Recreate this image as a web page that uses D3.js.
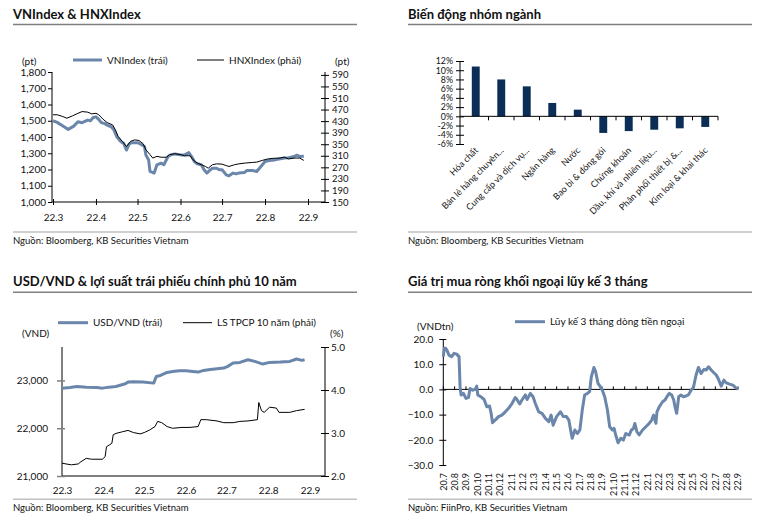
<!DOCTYPE html>
<html><head><meta charset="utf-8">
<script src="https://cdn.jsdelivr.net/npm/d3@7"></script>
<style>
body{margin:0;background:#fff}
text{font-family:Lato,"Open Sans",sans-serif;fill:#111}
</style>
</head><body>
<svg id="c" width="760" height="514"></svg>
<script>
// ---------- DATA ----------
const monthTicks1 = ["22.3","22.4","22.5","22.6","22.7","22.8","22.9"];

const vnDates = ["2022-03-01","2022-03-04","2022-03-09","2022-03-12","2022-03-16","2022-03-19","2022-03-22","2022-03-26","2022-03-28","2022-03-30","2022-04-01","2022-04-03","2022-04-05","2022-04-07","2022-04-09","2022-04-12","2022-04-14","2022-04-16","2022-04-19","2022-04-21","2022-04-23","2022-04-25","2022-04-27","2022-05-01","2022-05-03","2022-05-06","2022-05-07","2022-05-09","2022-05-10","2022-05-13","2022-05-15","2022-05-18","2022-05-20","2022-05-23","2022-05-25","2022-05-28","2022-06-01","2022-06-04","2022-06-07","2022-06-09","2022-06-11","2022-06-13","2022-06-16","2022-06-18","2022-06-20","2022-06-22","2022-06-24","2022-06-27","2022-06-29","2022-07-01","2022-07-04","2022-07-06","2022-07-09","2022-07-11","2022-07-13","2022-07-17","2022-07-19","2022-07-23","2022-07-26","2022-07-28","2022-08-01","2022-08-04","2022-08-08","2022-08-11","2022-08-15","2022-08-18","2022-08-22","2022-08-24","2022-08-26","2022-08-29"];
const vnValues = [1500,1490,1463,1447,1467,1494,1488,1504,1500,1520,1524,1508,1488,1484,1473,1463,1443,1402,1371,1361,1320,1357,1365,1365,1357,1341,1290,1259,1188,1178,1229,1239,1229,1280,1290,1296,1290,1290,1304,1280,1249,1235,1229,1198,1178,1194,1208,1208,1198,1198,1167,1161,1178,1173,1178,1182,1194,1194,1188,1208,1249,1255,1259,1265,1271,1273,1280,1288,1280,1282];

const hnxDates = ["2022-03-01","2022-03-04","2022-03-08","2022-03-11","2022-03-15","2022-03-19","2022-03-22","2022-03-26","2022-03-29","2022-04-01","2022-04-03","2022-04-06","2022-04-09","2022-04-13","2022-04-15","2022-04-17","2022-04-20","2022-04-23","2022-04-26","2022-04-29","2022-05-02","2022-05-05","2022-05-07","2022-05-10","2022-05-12","2022-05-15","2022-05-18","2022-05-22","2022-05-24","2022-05-28","2022-06-01","2022-06-04","2022-06-08","2022-06-10","2022-06-13","2022-06-16","2022-06-19","2022-06-21","2022-06-24","2022-06-27","2022-07-01","2022-07-04","2022-07-06","2022-07-10","2022-07-13","2022-07-18","2022-07-23","2022-07-26","2022-07-30","2022-08-03","2022-08-06","2022-08-11","2022-08-15","2022-08-18","2022-08-22","2022-08-26","2022-08-29"];
const hnxValues = [452,452,446,440,448,457,463,461,455,457,452,437,425,417,400,377,360,342,360,365,363,352,331,314,302,308,305,305,314,317,314,310,310,296,285,279,273,267,279,282,281,276,273,279,282,285,287,288,294,299,301,302,305,299,302,302,294];

const sectorNames = ["Hóa chất","Bán lẻ hàng chuyên...","Cung cấp và dịch vụ...","Ngân hàng","Nước","Bao bì & đóng gói","Chứng khoán","Dầu, khí và nhiên liệu...","Phân phối thiết bị &...","Kim loại & khai thác"];
const sectorValues = [10.8,8.0,6.5,2.9,1.45,-3.6,-3.2,-2.9,-2.6,-2.3];

const usdDates = ["2022-03-01","2022-03-07","2022-03-12","2022-03-19","2022-03-27","2022-03-31","2022-04-05","2022-04-10","2022-04-17","2022-04-19","2022-04-23","2022-04-30","2022-05-08","2022-05-10","2022-05-13","2022-05-18","2022-05-22","2022-05-27","2022-06-01","2022-06-06","2022-06-10","2022-06-14","2022-06-19","2022-06-24","2022-06-29","2022-07-02","2022-07-06","2022-07-11","2022-07-17","2022-07-22","2022-07-28","2022-08-02","2022-08-10","2022-08-17","2022-08-22","2022-08-26","2022-08-28"];
const usdValues = [22839,22853,22874,22860,22853,22839,22860,22874,22930,22965,22972,22965,22944,23084,23105,23168,23189,23203,23203,23189,23175,23210,23231,23245,23259,23294,23364,23378,23434,23399,23343,23378,23385,23399,23448,23420,23434];

const bondDates = ["2022-03-01","2022-03-04","2022-03-08","2022-03-13","2022-03-15","2022-03-19","2022-03-23","2022-03-27","2022-03-31","2022-04-02","2022-04-03","2022-04-05","2022-04-07","2022-04-08","2022-04-10","2022-04-15","2022-04-19","2022-04-23","2022-04-28","2022-05-01","2022-05-05","2022-05-09","2022-05-11","2022-05-14","2022-05-18","2022-05-22","2022-05-29","2022-06-04","2022-06-10","2022-06-12","2022-06-16","2022-06-24","2022-06-29","2022-07-06","2022-07-11","2022-07-17","2022-07-24","2022-07-25","2022-07-27","2022-07-29","2022-07-31","2022-08-02","2022-08-07","2022-08-09","2022-08-12","2022-08-17","2022-08-22","2022-08-28"];
const bondValues = [2.30,2.28,2.26,2.28,2.33,2.41,2.39,2.39,2.39,2.45,2.68,2.72,2.76,2.96,2.99,3.03,3.06,3.01,2.98,3.01,3.07,3.15,3.27,3.24,3.15,3.11,3.13,3.13,3.15,3.31,3.31,3.28,3.24,3.24,3.27,3.28,3.31,3.71,3.52,3.48,3.54,3.60,3.58,3.48,3.48,3.48,3.52,3.55];

const flowTickLabels = ["20.7","20.8","20.9","20.10","20.11","20.12","21.1","21.2","21.3","21.4","21.5","21.6","21.7","21.8","21.9","21.10","21.11","21.12","22.1","22.2","22.3","22.4","22.5","22.6","22.7","22.8","22.9"];
// months elapsed since Jul 2020
const flowMonths = [0,0.09,0.21,0.35,0.50,0.74,0.95,1.18,1.39,1.48,1.57,1.77,2.01,2.22,2.36,2.60,2.81,2.95,3.04,3.31,3.60,3.84,4.08,4.22,4.34,4.58,4.87,5.17,5.47,5.76,6.06,6.35,6.50,6.74,6.94,7.24,7.39,7.68,7.92,8.12,8.42,8.71,9.01,9.31,9.51,9.69,9.99,10.34,10.58,10.87,11.08,11.23,11.37,11.61,11.82,12.05,12.26,12.47,12.70,12.91,13.06,13.29,13.44,13.65,13.82,14.03,14.24,14.48,14.68,14.92,15.07,15.21,15.42,15.66,15.89,16.10,16.40,16.60,16.78,16.90,17.08,17.28,17.58,17.87,18.17,18.38,18.55,18.76,18.85,19.05,19.35,19.56,19.73,19.94,20.15,20.33,20.44,20.59,20.77,20.97,21.18,21.42,21.62,21.86,22.07,22.30,22.51,22.75,22.98,23.19,23.40,23.63,23.87,24.08,24.28,24.52,24.76,24.96,25.26,25.55,25.76,26.0];
const flowValues = [13.0,16.3,16.3,15.3,13.6,13.0,14.3,14.0,13.0,1.1,-2.2,-1.6,-3.6,-3.2,0.4,-0.3,0,1.3,-2.2,-2.9,-4.0,-6.9,-6.6,-9.5,-13.2,-12.2,-10.8,-10.2,-8.9,-7.5,-5.6,-3.2,-4.0,-5.8,-4.2,-2.2,-4.0,-1.6,-2.9,-5.6,-8.9,-9.5,-11.5,-12.8,-10.2,-14.2,-10.8,-8.9,-10.8,-10.8,-12.2,-16.1,-19.4,-16.1,-17.5,-16.1,-8.2,-2.2,-1.6,-0.9,5.0,8.7,7.0,2.4,1.3,-0.3,-2.9,-8.2,-14.8,-16.1,-15.5,-18.1,-21.2,-19.4,-20.1,-17.5,-18.1,-16.1,-15.5,-13.5,-16.8,-18.1,-16.1,-14.8,-13.5,-12.2,-10.2,-13.5,-8.9,-6.9,-4.9,-4.2,-2.9,-1.6,-2.2,-4.2,-6.9,-9.5,-2.9,-2.2,-2.9,-2.6,-2.2,-0.3,0.8,5.7,8.7,6.3,7.9,7.7,9.0,7.7,6.6,5.7,4.0,1.3,3.7,2.6,2.1,1.7,0.8,0];

// ---------- DRAW ----------
const svg = d3.select("#c");
const BLUE = "#6a86ab", NAVY = "#0c2d56", TXT = "#111";
const parse = d3.timeParse("%Y-%m-%d");

function frame(x0, x1, titleY, ruleY, title, srcRuleY, srcY, src) {
  svg.append("text").attr("x", x0).attr("y", titleY).attr("font-size", 13).attr("font-weight", 700).text(title);
  svg.append("line").attr("x1", x0).attr("x2", x1).attr("y1", ruleY).attr("y2", ruleY).attr("stroke", "#808080").attr("stroke-width", 1.5);
  svg.append("line").attr("x1", x0).attr("x2", x1).attr("y1", srcRuleY).attr("y2", srcRuleY).attr("stroke", "#c0c0c0").attr("stroke-width", 1.5);
  svg.append("text").attr("x", x0).attr("y", srcY).attr("font-size", 9.5).text(src);
}
function styleAxis(g, fs) {
  g.selectAll("text").attr("font-size", fs).attr("fill", TXT).attr("font-family", "Lato, 'Open Sans', sans-serif");
  g.selectAll("line").attr("stroke", "#000");
  g.select(".domain").remove();
}
function legendItem(x, y, len, color, w, label) {
  svg.append("line").attr("x1", x).attr("x2", x + len).attr("y1", y).attr("y2", y).attr("stroke", color).attr("stroke-width", w);
  svg.append("text").attr("x", x + len + 5).attr("y", y + 3.5).attr("font-size", 10).text(label);
}

// ===== Panel 1 =====
frame(13, 357, 18.5, 24.5, "VNIndex & HNXIndex", 232, 243.5, "Nguồn: Bloomberg, KB Securities Vietnam");
const x1 = d3.scaleTime().domain([parse("2022-03-01"), parse("2022-09-01")]).range([53, 308]);
const yL1 = d3.scaleLinear().domain([1000, 1800]).range([202, 72]);
const yR1 = d3.scaleLinear().domain([150, 600]).range([202, 72]);
svg.append("line").attr("x1", 52).attr("x2", 52).attr("y1", 72).attr("y2", 202).attr("stroke", "#000");
svg.append("line").attr("x1", 325).attr("x2", 325).attr("y1", 72).attr("y2", 202).attr("stroke", "#000");
svg.append("line").attr("x1", 52).attr("x2", 325).attr("y1", 202).attr("y2", 202).attr("stroke", "#000");
let g = svg.append("g").attr("transform", "translate(52,0)")
  .call(d3.axisLeft(yL1).tickValues(d3.range(1000, 1801, 100)).tickFormat(d3.format(",")).tickSize(4).tickPadding(2));
styleAxis(g, 10);
g = svg.append("g").attr("transform", "translate(325,0)")
  .call(d3.axisRight(yR1).tickValues(d3.range(150, 591, 40)).tickSize(4).tickPadding(3));
styleAxis(g, 9.5); g.selectAll(".tick line").attr("x1", -4);
const months1 = d3.timeMonth.range(parse("2022-03-01"), parse("2022-09-02"));
g = svg.append("g").attr("transform", "translate(0,202)")
  .call(d3.axisBottom(x1).tickValues(months1).tickFormat((d, i) => monthTicks1[i]).tickSize(3).tickPadding(9));
styleAxis(g, 10); g.selectAll(".tick line").attr("y1", -3);
svg.append("text").attr("x", 22).attr("y", 65).attr("font-size", 10).text("(pt)");
svg.append("text").attr("x", 335).attr("y", 65).attr("font-size", 10).text("(pt)");
const vnData = vnDates.map((d, i) => ({ t: parse(d), v: vnValues[i] }));
const hnxData = hnxDates.map((d, i) => ({ t: parse(d), v: hnxValues[i] }));
svg.append("path").datum(vnData).attr("fill", "none").attr("stroke", BLUE).attr("stroke-width", 3).attr("stroke-linejoin", "round")
  .attr("d", d3.line().x(d => x1(d.t)).y(d => yL1(d.v)));
svg.append("path").datum(hnxData).attr("fill", "none").attr("stroke", "#000").attr("stroke-width", 1)
  .attr("d", d3.line().x(d => x1(d.t)).y(d => yR1(d.v)));
legendItem(73, 60, 29, BLUE, 3, "VNIndex (trái)");
legendItem(197, 60, 27, "#000", 1, "HNXIndex (phải)");

// ===== Panel 2 =====
frame(408, 752, 18.5, 24.5, "Biến động nhóm ngành", 232, 243.5, "Nguồn: Bloomberg, KB Securities Vietnam");
const x2 = d3.scaleBand().domain(sectorNames).range([463, 718]).paddingInner(0.69).paddingOuter(0.345);
const y2 = d3.scaleLinear().domain([-6, 12]).range([144, 61]);
svg.append("line").attr("x1", 460).attr("x2", 460).attr("y1", 61).attr("y2", 144).attr("stroke", "#000");
g = svg.append("g").attr("transform", "translate(460,0)")
  .call(d3.axisLeft(y2).tickValues(d3.range(-6, 13, 2)).tickFormat(d => d + "%").tickSize(4).tickPadding(3));
styleAxis(g, 8.8); g.selectAll(".tick line").attr("x1", 4);
svg.selectAll(".bar").data(sectorNames).enter().append("rect")
  .attr("x", d => x2(d)).attr("width", x2.bandwidth())
  .attr("y", (d, i) => y2(Math.max(0, sectorValues[i])))
  .attr("height", (d, i) => Math.abs(y2(sectorValues[i]) - y2(0)))
  .attr("fill", NAVY);
svg.append("line").attr("x1", 460).attr("x2", 718).attr("y1", y2(0)).attr("y2", y2(0)).attr("stroke", "#000");
sectorNames.forEach((d, i) => {
  const bx = 463 + x2.step() * (i + 1);
  svg.append("line").attr("x1", bx).attr("x2", bx).attr("y1", y2(0)).attr("y2", y2(0) + 4).attr("stroke", "#000");
  const cx = x2(d) + x2.bandwidth() / 2 + 3;
  svg.append("text").attr("transform", `translate(${cx},151) rotate(-45)`).attr("text-anchor", "end").attr("font-size", 9).text(d);
});

// ===== Panel 3 =====
frame(13, 357, 285.5, 292.3, "USD/VND & lợi suất trái phiếu chính phủ 10 năm", 499.3, 510.5, "Nguồn: Bloomberg, KB Securities Vietnam");
const x3 = d3.scaleTime().domain([parse("2022-03-01"), parse("2022-09-01")]).range([62, 310]);
const yL3 = d3.scaleLinear().domain([21000, 23700]).range([476, 347]);
const yR3 = d3.scaleLinear().domain([2, 5]).range([476, 347]);
svg.append("line").attr("x1", 62).attr("x2", 62).attr("y1", 347).attr("y2", 476).attr("stroke", "#000");
svg.append("line").attr("x1", 325).attr("x2", 325).attr("y1", 347).attr("y2", 476).attr("stroke", "#000");
svg.append("line").attr("x1", 62).attr("x2", 325).attr("y1", 476).attr("y2", 476).attr("stroke", "#000");
g = svg.append("g").attr("transform", "translate(62,0)")
  .call(d3.axisLeft(yL3).tickValues([21000, 22000, 23000]).tickFormat(d3.format(",")).tickSize(4).tickPadding(10));
styleAxis(g, 10); g.selectAll(".tick line").attr("x1", 3).attr("x2", -5).attr("stroke", "#808080").attr("stroke-width", 1.5);
g = svg.append("g").attr("transform", "translate(325,0)")
  .call(d3.axisRight(yR3).tickValues([2, 3, 4, 5]).tickFormat(d3.format(".1f")).tickSize(4).tickPadding(2));
styleAxis(g, 10); g.selectAll(".tick line").attr("x1", -4);
const months3 = d3.timeMonth.range(parse("2022-03-01"), parse("2022-09-02"));
g = svg.append("g").attr("transform", "translate(0,476)")
  .call(d3.axisBottom(x3).tickValues(months3).tickFormat((d, i) => monthTicks1[i]).tickSize(0).tickPadding(11));
styleAxis(g, 10);
svg.append("text").attr("x", 22).attr("y", 337).attr("font-size", 10).text("(VND)");
svg.append("text").attr("x", 330).attr("y", 337).attr("font-size", 10).text("(%)");
const usdData = usdDates.map((d, i) => ({ t: parse(d), v: usdValues[i] }));
const bondData = bondDates.map((d, i) => ({ t: parse(d), v: bondValues[i] }));
svg.append("path").datum(usdData).attr("fill", "none").attr("stroke", BLUE).attr("stroke-width", 3).attr("stroke-linejoin", "round")
  .attr("d", d3.line().x(d => x3(d.t)).y(d => yL3(d.v)));
svg.append("path").datum(bondData).attr("fill", "none").attr("stroke", "#000").attr("stroke-width", 1)
  .attr("d", d3.line().x(d => x3(d.t)).y(d => yR3(d.v)));
legendItem(58, 322.7, 30, BLUE, 3, "USD/VND (trái)");
legendItem(183, 322.7, 29, "#000", 1, "LS TPCP 10 năm (phải)");

// ===== Panel 4 =====
frame(408, 752, 285.5, 292.3, "Giá trị mua ròng khối ngoại lũy kế 3 tháng", 499.3, 510.5, "Nguồn: FiinPro, KB Securities Vietnam");
const x4 = d3.scaleLinear().domain([0, 26]).range([443.3, 738]);
const y4 = d3.scaleLinear().domain([-30, 20]).range([465, 339]);
svg.append("line").attr("x1", 443.3).attr("x2", 443.3).attr("y1", 339).attr("y2", 465).attr("stroke", "#000");
g = svg.append("g").attr("transform", "translate(443.3,0)")
  .call(d3.axisLeft(y4).tickValues(d3.range(-30, 21, 10)).tickFormat(d3.format(".1f")).tickSize(4).tickPadding(6));
styleAxis(g, 10); g.selectAll(".tick line").attr("x1", 3);
svg.append("line").attr("x1", 443.3).attr("x2", 738).attr("y1", y4(0)).attr("y2", y4(0)).attr("stroke", "#000");
flowTickLabels.forEach((lab, i) => {
  const tx = x4(i);
  svg.append("line").attr("x1", tx).attr("x2", tx).attr("y1", y4(0)).attr("y2", y4(0) - 3).attr("stroke", "#000");
  svg.append("text").attr("transform", `translate(${tx + 3.3},473) rotate(-90)`).attr("text-anchor", "end").attr("font-size", 9).text(lab);
});
svg.append("text").attr("x", 417).attr("y", 330).attr("font-size", 10).text("(VNDtn)");
svg.append("path").datum(flowMonths.map((m, i) => ({ m, v: flowValues[i] })))
  .attr("fill", "none").attr("stroke", BLUE).attr("stroke-width", 3).attr("stroke-linejoin", "round")
  .attr("d", d3.line().x(d => x4(d.m)).y(d => y4(d.v)));
legendItem(515, 321.7, 30, BLUE, 3, "Lũy kế 3 tháng dòng tiền ngoại");
</script>
</body></html>
